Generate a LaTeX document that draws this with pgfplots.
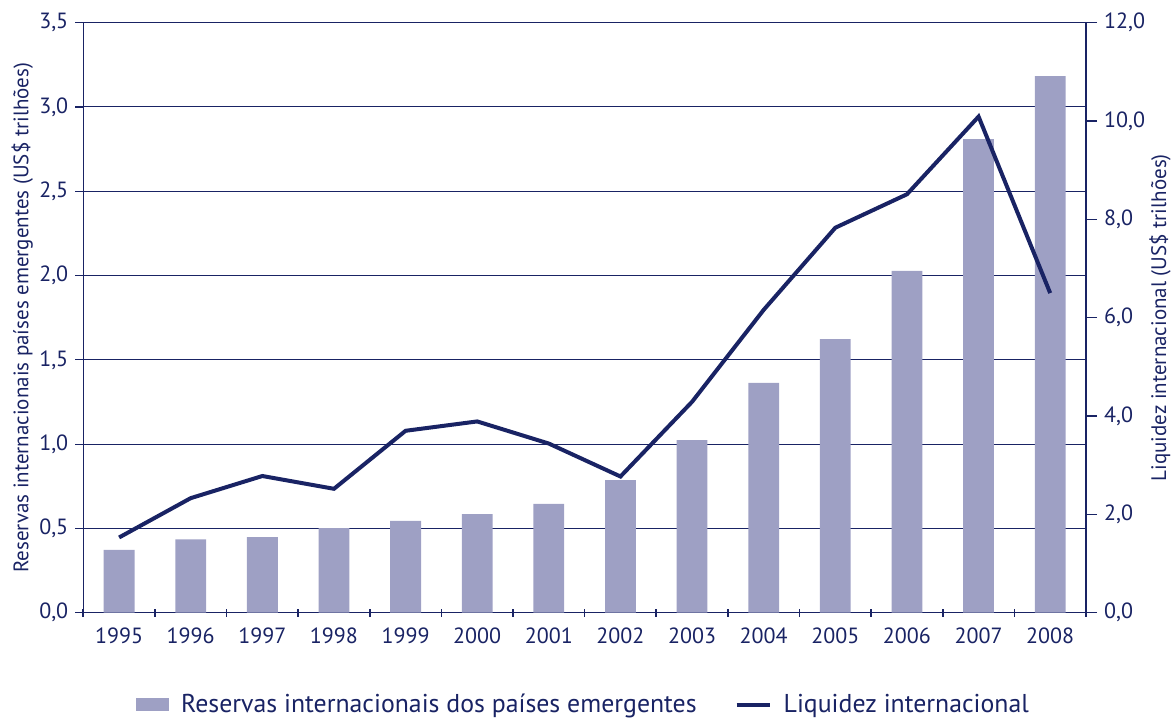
\documentclass[border=0pt]{standalone}
\usepackage{fontspec}
\setmainfont{PT Sans}
\usepackage{pgfplots}
\usepackage{pgfplotstable}
\pgfplotsset{compat=1.18}

\definecolor{navy}{RGB}{25,35,100}
\definecolor{barcol}{RGB}{158,160,196}

% x = category index, res = reservas (US$ tri), liq = liquidez (US$ tri)
\pgfplotstableread{
x year res liq
0  1995 0.372 1.53
1  1996 0.435 2.33
2  1997 0.449 2.78
3  1998 0.502 2.52
4  1999 0.544 3.70
5  2000 0.585 3.89
6  2001 0.645 3.44
7  2002 0.787 2.77
8  2003 1.024 4.29
9  2004 1.364 6.16
10 2005 1.623 7.83
11 2006 2.028 8.51
12 2007 2.810 10.09
13 2008 3.183 6.50
}\data

\pgfplotsset{
  common/.style={
    scale only axis, width=501.35pt, height=295pt,
    xmin=-0.5, xmax=13.5,
    axis line style={navy, line width=0.75pt},
    tick style={navy, line width=0.6pt},
    ticklabel style={font=\fontsize{11}{13}\selectfont, text=navy},
    label style={font=\fontsize{10.5}{12}\selectfont, text=navy},
    /pgf/number format/.cd, use comma, fixed, fixed zerofill, precision=1,
      assume math mode=true,
  },
}

\begin{document}
\begin{tikzpicture}
\begin{axis}[
  common, name=main,
  ymin=0, ymax=3.5,
  axis x line*=bottom, axis y line*=left,
  ytick={0,0.5,1,1.5,2,2.5,3,3.5},
  ymajorgrids, grid style={navy, line width=0.5pt},
  ytick align=outside, major tick length=4pt,
  % ticks sit between the years, labels shifted half a category to the right
  xtick={-0.5,0.5,1.5,2.5,3.5,4.5,5.5,6.5,7.5,8.5,9.5,10.5,11.5,12.5,13.5},
  xticklabels={1995,1996,1997,1998,1999,2000,2001,2002,2003,2004,2005,2006,2007,2008,},
  x tick style={line width=0.8pt},
  xtick align=center, x tick label style={xshift=17.9pt, yshift=-2pt},
  xmajorgrids=false,
  ylabel={Reservas internacionais países emergentes (US\$ trilhões)},
  ylabel style={at={(axis description cs:-0.0608,0.5)}, anchor=center, rotate=0},
]
\addplot[ybar, bar width=0.43, fill=barcol, draw=none] table[x=x, y=res] {\data};
\end{axis}

\begin{axis}[
  common,
  ymin=0, ymax=12,
  hide x axis, axis y line*=right,
  ytick={0,2,4,6,8,10,12},
  ytick align=outside, major tick length=5.5pt,
  ylabel={Liquidez internacional (US\$ trilhões)},
  ylabel style={at={(axis description cs:1.0738,0.5)}, anchor=center, rotate=0},
  legend columns=2,
  legend style={at={(axis description cs:0.5,-0.156)}, anchor=center, draw=none,
    font=\fontsize{12.9}{15}\selectfont, text=navy,
    /tikz/every odd column/.append style={column sep=4pt},
    /tikz/every even column/.append style={column sep=17pt}},
]
\addlegendimage{legend image code/.code={\fill[barcol] (0pt,-3pt) rectangle (16pt,3pt);}}
\addlegendentry{Reservas internacionais dos países emergentes}
\addplot[navy, line width=2pt,
  legend image code/.code={\draw[navy, line width=2pt] (0pt,0pt) -- (16.5pt,0pt);}]
  table[x=x, y=liq] {\data};
\addlegendentry{Liquidez internacional}
\end{axis}

\pgfresetboundingbox
\path[use as bounding box] ([xshift=-41.65pt, yshift=-54.65pt]main.south west)
  rectangle ([xshift=42.5pt, yshift=11.35pt]main.north east);
\end{tikzpicture}
\end{document}
